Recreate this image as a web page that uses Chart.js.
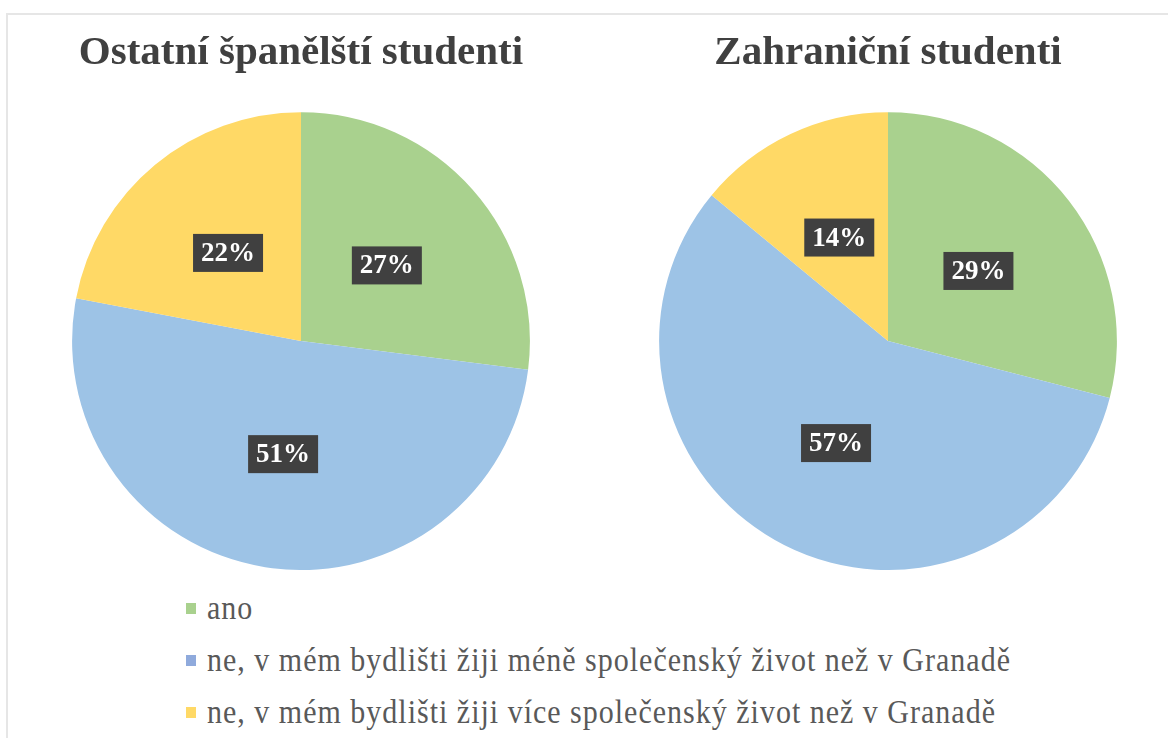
<!DOCTYPE html>
<html>
<head>
<meta charset="utf-8">
<script src="https://cdn.jsdelivr.net/npm/chart.js@4.4.1/dist/chart.umd.min.js"></script>
<style>
  body { margin: 0; background: #fff; width: 1168px; height: 738px; overflow: hidden; position: relative; }
  #frame { position: absolute; left: 6px; top: 13px; width: 1180px; height: 740px; border-top: 2px solid #e6e6e6; border-left: 2px solid #e6e6e6; }
  .pie { position: absolute; top: 0; }
  #legend { position: absolute; left: 186px; top: 590px; font-family: "Liberation Serif", "Times New Roman", serif; font-size: 30px; letter-spacing: 1px; color: #595959; }
  .row { position: absolute; left: 0; height: 36px; white-space: nowrap; display: flex; align-items: center; }
  .box { display: inline-block; width: 10px; height: 11px; margin-right: 11px; }
  .txt { display: inline-block; transform: scaleY(1.12); transform-origin: 50% 60%; }
</style>
</head>
<body>
<div id="frame"></div>
<div class="pie" style="left:72px;width:458px;height:570px"><canvas id="pieLeft"></canvas></div>
<div class="pie" style="left:659px;width:458px;height:570px"><canvas id="pieRight"></canvas></div>
<div id="legend"></div>
<script>
var categories = [
  'ano',
  'ne, v mém bydlišti žiji méně společenský život než v Granadě',
  'ne, v mém bydlišti žiji více společenský život než v Granadě'
];
var titles = ['Ostatní španělští studenti', 'Zahraniční studenti'];
var spanishValues = [27, 51, 22];
var foreignValues = [29, 57, 14];
var sliceColors = ['#A9D18E', '#9DC3E6', '#FFD966'];
var legendColors = ['#A9D18E', '#8FAADC', '#FFD966'];

// dark boxes with the percentage, at the middle of each slice
var boxLabels = {
  id: 'boxLabels',
  afterDatasetsDraw: function(chart) {
    var ctx = chart.ctx;
    var meta = chart.getDatasetMeta(0);
    var data = chart.data.datasets[0].data;
    ctx.save();
    ctx.font = 'bold 27px "Liberation Serif", serif';
    ctx.textAlign = 'center';
    ctx.textBaseline = 'middle';
    meta.data.forEach(function(arc, i) {
      var p = arc.getCenterPoint();
      var txt = data[i] + '%';
      var w = ctx.measureText(txt).width + 16;
      var h = 38;
      ctx.fillStyle = '#404040';
      ctx.fillRect(p.x - w / 2, p.y - h / 2, w, h);
      ctx.fillStyle = '#ffffff';
      ctx.fillText(txt, p.x, p.y + 1);
    });
    ctx.restore();
  }
};

function makePie(id, title, values) {
  return new Chart(document.getElementById(id), {
    type: 'pie',
    data: {
      labels: categories,
      datasets: [{
        data: values,
        backgroundColor: sliceColors,
        borderWidth: 0,
        hoverOffset: 0,
        offset: 0
      }]
    },
    options: {
      responsive: true,
      maintainAspectRatio: false,
      animation: false,
      layout: { padding: 0 },
      plugins: {
        legend: { display: false },
        tooltip: { enabled: false },
        title: {
          display: true,
          text: title,
          color: '#404040',
          font: { family: '"Liberation Serif", serif', size: 41, weight: 'bold', lineHeight: 1.2 },
          padding: { top: 29, bottom: 34 }
        }
      }
    },
    plugins: [boxLabels]
  });
}

makePie('pieLeft', titles[0], spanishValues);
makePie('pieRight', titles[1], foreignValues);

var legend = document.getElementById('legend');
categories.forEach(function(c, i) {
  var row = document.createElement('div');
  row.className = 'row';
  row.style.top = (i * 52) + 'px';
  row.innerHTML = '<span class="box" style="background:' + legendColors[i] + '"></span><span class="txt">' + c + '</span>';
  legend.appendChild(row);
});
</script>
</body>
</html>
